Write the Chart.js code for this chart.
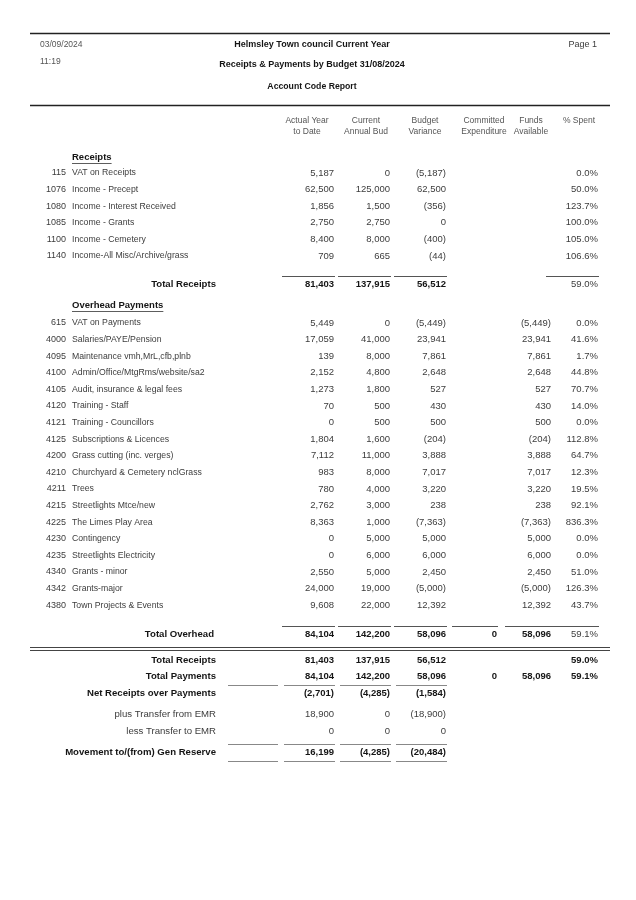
<!DOCTYPE html>
<html>
<head>
<meta charset="utf-8">
<script src="https://cdn.jsdelivr.net/npm/chart.js@4.4.1/dist/chart.umd.min.js"></script>
<style>
html,body{margin:0;padding:0;background:#fff;}
#wrap{width:636px;height:900px;position:relative;}
canvas{display:block;}
</style>
</head>
<body>
<div id="wrap"><canvas id="c" width="636" height="900"></canvas></div>
<script>
// ---------- DATA ----------
const columnHeaders = [["Actual Year","to Date"],["Current","Annual Bud"],["Budget","Variance"],["Committed","Expenditure"],["Funds","Available"],["% Spent"]];

const receiptCodes = ["115","1076","1080","1085","1100","1140"];
const receiptNames = ["VAT on Receipts","Income - Precept","Income - Interest Received","Income - Grants","Income - Cemetery","Income-All Misc/Archive/grass"];
const receiptActual = [5187,62500,1856,2750,8400,709];
const receiptBudget = [0,125000,1500,2750,8000,665];
const receiptVariance = [-5187,62500,-356,0,-400,-44];
const receiptPctSpent = [0.0,50.0,123.7,100.0,105.0,106.6];

const paymentCodes = ["615","4000","4095","4100","4105","4120","4121","4125","4200","4210","4211","4215","4225","4230","4235","4340","4342","4380"];
const paymentNames = ["VAT on Payments","Salaries/PAYE/Pension","Maintenance vmh,MrL,cfb,plnb","Admin/Office/MtgRms/website/sa2","Audit, insurance & legal fees","Training - Staff","Training - Councillors","Subscriptions & Licences","Grass cutting (inc. verges)","Churchyard & Cemetery nclGrass","Trees","Streetlights Mtce/new","The Limes Play Area","Contingency","Streetlights Electricity","Grants - minor","Grants-major","Town Projects & Events"];
const paymentActual = [5449,17059,139,2152,1273,70,0,1804,7112,983,780,2762,8363,0,0,2550,24000,9608];
const paymentBudget = [0,41000,8000,4800,1800,500,500,1600,11000,8000,4000,3000,1000,5000,6000,5000,19000,22000];
const paymentVariance = [-5449,23941,7861,2648,527,430,500,-204,3888,7017,3220,238,-7363,5000,6000,2450,-5000,12392];
const paymentFunds = [-5449,23941,7861,2648,527,430,500,-204,3888,7017,3220,238,-7363,5000,6000,2450,-5000,12392];
const paymentPctSpent = [0.0,41.6,1.7,44.8,70.7,14.0,0.0,112.8,64.7,12.3,19.5,92.1,836.3,0.0,0.0,51.0,126.3,43.7];

const totalReceipts = [81403,137915,56512,null,null];
const totalReceiptsPct = 59.0;
const totalOverhead = [84104,142200,58096,0,58096];
const totalOverheadPct = 59.1;

const summaryLabels = ["Total Receipts","Total Payments","Net Receipts over Payments","plus Transfer from EMR","less Transfer to EMR","Movement to/(from) Gen Reserve"];
const summaryActual = [81403,84104,-2701,18900,0,16199];
const summaryBudget = [137915,142200,-4285,0,0,-4285];
const summaryVariance = [56512,58096,-1584,-18900,0,-20484];
const summaryCommitted = [null,0,null,null,null,null];
const summaryFunds = [null,58096,null,null,null,null];
const summaryPct = [59.0,59.1,null,null,null,null];

// ---------- LAYOUT / STYLE ----------
const colRight = [334,390,446,497,551,598];
const colCenter = [307,366,425,484,531,579];
const receiptTop = 173, rowStep = 16.6;
const paymentTop = 323;
const totalReceiptsY = 284, totalOverheadY = 634;
const summaryY = [660,676,693,714,731,752];
const summaryBold = [true,true,true,false,false,true];
const FONT = '"Liberation Sans", Arial, sans-serif';
const REG = '#3c3c3c', BOLD = '#151515';
const NUM_SIZE = 9.5;

function fmtNum(v){
  if(v===null||v===undefined) return '';
  const s = Math.abs(v).toLocaleString('en-GB');
  return v<0 ? '('+s+')' : s;
}
function fmtPct(v){ return (v===null||v===undefined)?'':v.toFixed(1)+'%'; }

// one point per table cell; its text is drawn at the library-scaled point
function cells(values, ys, col, fmt, bold){
  return values.map((v,i)=>({x:colRight[col], y:ys[i], t:fmt(v), b:!!(Array.isArray(bold)?bold[i]:bold)})).filter(p=>p.t!=='');
}
const rY = receiptCodes.map((_,i)=>receiptTop+i*rowStep);
const pY = paymentCodes.map((_,i)=>paymentTop+i*rowStep);

const datasets = [
  {label:'rActual', data:cells(receiptActual,rY,0,fmtNum,false)},
  {label:'rBudget', data:cells(receiptBudget,rY,1,fmtNum,false)},
  {label:'rVar', data:cells(receiptVariance,rY,2,fmtNum,false)},
  {label:'rPct', data:cells(receiptPctSpent,rY,5,fmtPct,false)},
  {label:'pActual', data:cells(paymentActual,pY,0,fmtNum,false)},
  {label:'pBudget', data:cells(paymentBudget,pY,1,fmtNum,false)},
  {label:'pVar', data:cells(paymentVariance,pY,2,fmtNum,false)},
  {label:'pFunds', data:cells(paymentFunds,pY,4,fmtNum,false)},
  {label:'pPct', data:cells(paymentPctSpent,pY,5,fmtPct,false)},
  {label:'trTot', data: totalReceipts.map((v,i)=>({x:colRight[i],y:totalReceiptsY,t:fmtNum(v),b:true})).filter(p=>p.t!=='')
      .concat([{x:colRight[5],y:totalReceiptsY,t:fmtPct(totalReceiptsPct),b:false}])},
  {label:'toTot', data: totalOverhead.map((v,i)=>({x:colRight[i],y:totalOverheadY,t:fmtNum(v),b:true}))
      .concat([{x:colRight[5],y:totalOverheadY,t:fmtPct(totalOverheadPct),b:false}])},
  {label:'sAct', data:cells(summaryActual,summaryY,0,fmtNum,summaryBold)},
  {label:'sBud', data:cells(summaryBudget,summaryY,1,fmtNum,summaryBold)},
  {label:'sVar', data:cells(summaryVariance,summaryY,2,fmtNum,summaryBold)},
  {label:'sCom', data:cells(summaryCommitted,summaryY,3,fmtNum,summaryBold)},
  {label:'sFun', data:cells(summaryFunds,summaryY,4,fmtNum,summaryBold)},
  {label:'sPct', data:cells(summaryPct,summaryY,5,fmtPct,summaryBold)}
];
datasets.forEach(d=>{d.pointRadius=0;d.pointHoverRadius=0;d.showLine=false;});

const tablePlugin = {
  id:'reportTable',
  afterDatasetsDraw(chart){
    const ctx = chart.ctx, xs = chart.scales.x, ys = chart.scales.y;
    const X = v=>xs.getPixelForValue(v), Y = v=>ys.getPixelForValue(v);
    ctx.save();
    ctx.textBaseline='middle';
    function text(s,x,y,align,bold,size,color){
      ctx.font=(bold?'bold ':'')+(size||9)+'px '+FONT;
      ctx.fillStyle=color||(bold?BOLD:REG);
      ctx.textAlign=align;
      ctx.fillText(s,X(x),Y(y));
    }
    function hline(x1,x2,y,w,color){
      ctx.beginPath();ctx.strokeStyle=color||'#444';ctx.lineWidth=w||1;
      ctx.moveTo(X(x1),Math.round(Y(y))+0.5);ctx.lineTo(X(x2),Math.round(Y(y))+0.5);ctx.stroke();
    }
    // header
    hline(30,610,33,1.5,'#222');
    text('03/09/2024',40,45,'left',false,8.5,'#555');
    text('11:19',40,62,'left',false,8.5,'#555');
    text('Helmsley Town council Current Year',312,45,'center',true,9);
    text('Page 1',597,45,'right',false,9);
    text('Receipts & Payments by Budget 31/08/2024',312,65,'center',true,9);
    text('Account Code Report',312,87,'center',true,8.7);
    hline(30,610,105,1.5,'#222');
    columnHeaders.forEach((h,i)=>{
      h.forEach((line,j)=>text(line,colCenter[i],121+j*10.5,'center',false,8.5,'#555'));
    });
    // section heads
    function sectionHead(s,y){
      text(s,72,y,'left',true,9.5);
      ctx.font='bold 9.5px '+FONT;
      const w=ctx.measureText(s).width;
      hline(72,72+w,y+6,0.8,'#333');
    }
    sectionHead('Receipts',157);
    receiptCodes.forEach((c,i)=>{text(c,66,rY[i],'right',false,9);text(receiptNames[i],72,rY[i],'left',false,8.7);});
    [0,1,2,5].forEach(c=>hline(colRight[c]-52,colRight[c]+1,totalReceiptsY-8,1,'#555'));
    text('Total Receipts',216,totalReceiptsY,'right',true,9.6);
    sectionHead('Overhead Payments',305);
    paymentCodes.forEach((c,i)=>{text(c,66,pY[i],'right',false,9);text(paymentNames[i],72,pY[i],'left',false,8.7);});
    [0,1,2,3,4,5].forEach(c=>hline(colRight[c]-(c===3?45:c===4?46:52),colRight[c]+1,totalOverheadY-8,1,'#555'));
    text('Total Overhead',214,totalOverheadY,'right',true,9.6);
    hline(30,610,647,1,'#444');
    hline(30,610,650,1,'#444');
    summaryLabels.forEach((s,i)=>text(s,216,summaryY[i],'right',summaryBold[i],9.6));
    [685,744,761].forEach(y=>{
      hline(228,278,y,1,'#888');
      [0,1,2].forEach(c=>hline(colRight[c]-50,colRight[c]+1,y,1,'#888'));
    });
    // cell values at library-scaled point positions
    chart.data.datasets.forEach((ds,di)=>{
      const meta=chart.getDatasetMeta(di);
      meta.data.forEach((el,k)=>{
        const p=ds.data[k];
        ctx.font=(p.b?'bold ':'')+NUM_SIZE+'px '+FONT;
        ctx.fillStyle=p.b?BOLD:REG;
        ctx.textAlign='right';
        ctx.fillText(p.t,el.x,el.y);
      });
    });
    ctx.restore();
  }
};

new Chart(document.getElementById('c'),{
  type:'scatter',
  data:{datasets},
  options:{
    responsive:false, animation:false, events:[],
    layout:{padding:0},
    plugins:{legend:{display:false},tooltip:{enabled:false}},
    scales:{
      x:{type:'linear',display:false,min:0,max:636},
      y:{type:'linear',display:false,min:0,max:900,reverse:true}
    }
  },
  plugins:[tablePlugin]
});
</script>
</body>
</html>
